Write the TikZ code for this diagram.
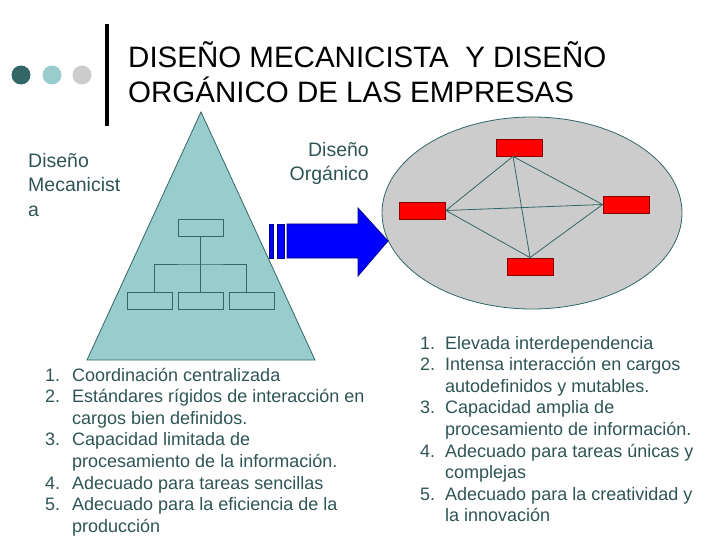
\documentclass[tikz,border=0pt]{standalone}
\usepackage{fontspec}
\setmainfont{Liberation Sans}
\definecolor{pizarra}{RGB}{47,84,84}
\definecolor{oscuro}{RGB}{51,102,102}
\definecolor{celeste}{RGB}{153,204,204}
\definecolor{gris}{RGB}{204,204,204}
\definecolor{marino}{RGB}{0,0,140}
\tikzset{
  caja/.style={draw=oscuro, fill=celeste, line width=0.8pt, minimum width=45pt, minimum height=17pt, inner sep=0pt},
  roja/.style={draw=red!55!black, fill=red, line width=0.8pt, minimum width=46pt, minimum height=17pt, inner sep=0pt},
  linea/.style={draw=oscuro, line width=0.8pt},
  lista/.style={anchor=base west, inner sep=0pt, text=pizarra, font=\fontsize{18}{21.6}\selectfont},
  rotulo/.style={inner sep=0pt, text=pizarra, font=\fontsize{19.5}{24}\selectfont},
}
\begin{document}
\begin{tikzpicture}[x=1pt,y=-1pt]
\useasboundingbox (0,0) rectangle (720,540);
\fill[oscuro] (21,75) circle[radius=9.5pt];
\fill[celeste] (52,75) circle[radius=9.5pt];
\fill[gris] (82,75) circle[radius=9.5pt];
\draw[line width=4pt] (107,24) -- (107,126);
\node[anchor=base west, inner sep=0pt, font=\fontsize{29.5}{31}\selectfont] (titulo) at (128,68)
  {\begin{tabular}[t]{@{}l@{}}DISEÑO MECANICISTA\ \ Y DISEÑO\\ORGÁNICO DE LAS EMPRESAS\end{tabular}};
\draw[draw=oscuro, fill=celeste, line width=0.8pt] (201,112) -- (315,360) -- (87,360) -- cycle;
\node[caja] (jefe) at (200.5,227.5) {};
\node[caja] (sub1) at (149.5,300.5) {};
\node[caja] (sub2) at (200.5,300.5) {};
\node[caja] (sub3) at (251.5,300.5) {};
\coordinate (rama) at (200.5,264);
\draw[linea]  (jefe) -- (rama);
\draw[linea]  (rama) -- (sub2);
\draw[linea]  ([xshift=5pt]sub1.north) |- (rama) -| ([xshift=-5pt]sub3.north);
\node[rotulo, anchor=base west] (mec) at (28,168)
  {\begin{tabular}[t]{@{}l@{}}Diseño\\Mecanicist\\a\end{tabular}};
\node[rotulo, anchor=base east] (org) at (369,157)
  {\begin{tabular}[t]{@{}r@{}}Diseño\\Orgánico\end{tabular}};
\draw[fill=gris, draw=oscuro, line width=0.8pt] (532,213) ellipse[x radius=150pt, y radius=96pt];
\fill[blue, draw=marino, line width=0.8pt] (287,224) -- (358,224) -- (358,208) -- (388,241) -- (358,276) -- (358,258) -- (287,258) -- cycle;
\fill[blue, draw=marino, line width=0.8pt] (269,224) rectangle (273,258);
\fill[blue, draw=marino, line width=0.8pt] (277,224) rectangle (284,258);
\node[roja] (r1) at (519,147.5) {};
\node[roja] (r2) at (422.5,210.5) {};
\node[roja] (r3) at (626,204.5) {};
\node[roja] (r4) at (530,266.5) {};
\draw[linea]  ([xshift=-6pt]r1.south) edge (r2.east) edge (r3.west) edge (r4.north);
\draw[linea]  (r2.east) edge (r3.west) edge (r4.north);
\draw[linea]  (r3.west) edge (r4.north);
\node[lista] (izq) at (45,381)
  {\begin{tabular}[t]{@{}p{27pt}@{}l@{}}
  1. & Coordinación centralizada\\
  2. & Estándares rígidos de interacción en\\
     & cargos bien definidos.\\
  3. & Capacidad limitada de\\
     & procesamiento de la información.\\
  4. & Adecuado para tareas sencillas\\
  5. & Adecuado para la eficiencia de la\\
     & producción
  \end{tabular}};
\node[lista] (der) at (420,349)
  {\begin{tabular}[t]{@{}p{25pt}@{}l@{}}
  1. & Elevada interdependencia\\
  2. & Intensa interacción en cargos\\
     & autodefinidos y mutables.\\
  3. & Capacidad amplia de\\
     & procesamiento de información.\\
  4. & Adecuado para tareas únicas y\\
     & complejas\\
  5. & Adecuado para la creatividad y\\
     & la innovación
  \end{tabular}};
\end{tikzpicture}
\end{document}
